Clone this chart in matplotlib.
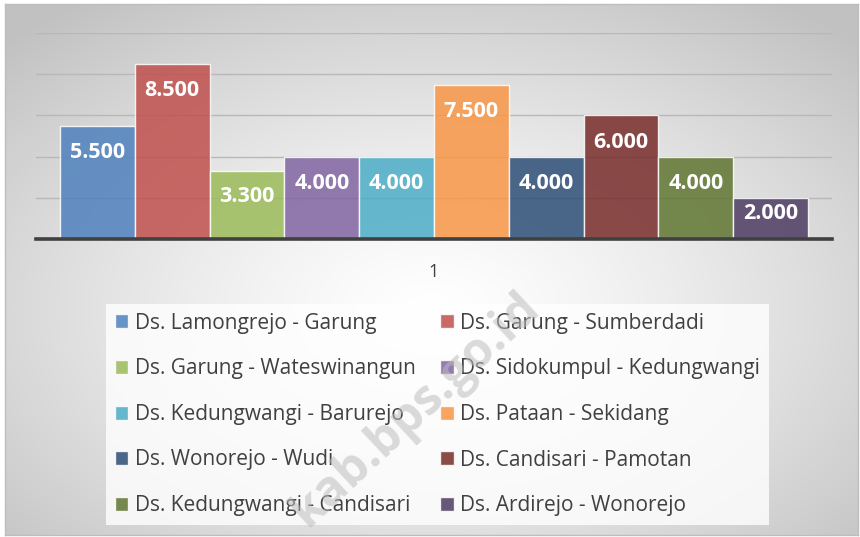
import numpy as np
import matplotlib
matplotlib.use("Agg")
import matplotlib.pyplot as plt

# ---- data ----
series = [
    "Ds. Lamongrejo - Garung",
    "Ds. Garung - Sumberdadi",
    "Ds. Garung - Wateswinangun",
    "Ds. Sidokumpul - Kedungwangi",
    "Ds. Kedungwangi - Barurejo",
    "Ds. Pataan - Sekidang",
    "Ds. Wonorejo - Wudi",
    "Ds. Candisari - Pamotan",
    "Ds. Kedungwangi - Candisari",
    "Ds. Ardirejo - Wonorejo",
]
values = [5.5, 8.5, 3.3, 4.0, 4.0, 7.5, 4.0, 6.0, 4.0, 2.0]
category = "1"
colors = ["#4F81BD", "#C0504D", "#9BBB59", "#8064A2", "#4BACC6",
          "#F79646", "#2C4D75", "#772C2A", "#5F7530", "#4D3B62"]
y_max = 10
y_step = 2

plt.rcParams['font.family'] = ['Open Sans', 'DejaVu Sans']

W, H = 860, 537
fig = plt.figure(figsize=(W / 100, H / 100), dpi=100)
fig.patch.set_facecolor("white")

# ---- background radial gradient (chart area) ----
bg = fig.add_axes([5 / W, 2 / H, 853 / W, 531 / H], zorder=0)
xx, yy = np.meshgrid(np.linspace(-1, 1, 600), np.linspace(-1, 1, 400))
cy = 0.15
r = np.sqrt(xx ** 2 + ((yy - cy) / 1.0) ** 2) / np.sqrt(2)
r = np.clip(r, 0, 1)
g = 1.0 - 0.24 * r ** 1.3
img = np.dstack([g, g, g])
bg.imshow(img, aspect="auto", extent=[0, 1, 0, 1], origin="upper")
bg.set_xlim(0, 1)
bg.set_ylim(0, 1)
bg.set_xticks([])
bg.set_yticks([])
for s in bg.spines.values():
    s.set_color("#bdbdbd")
    s.set_linewidth(1.0)

# ---- main axes ----
ax = fig.add_axes([36 / W, 1 - 239 / H, 796 / W, 206 / H], zorder=1)
ax.patch.set_alpha(0)
n = len(values)
pos = np.arange(n) - (n - 1) / 2
bars = ax.bar(pos, values, width=1.0, color=colors, alpha=0.85,
              edgecolor=(1, 1, 1, 0.6), linewidth=1.0, zorder=3)
ax.set_xlim(-n / 2 - 0.321, n / 2 + 0.321)
ax.set_ylim(0, y_max)
ax.set_yticks(np.arange(y_step, y_max + 0.01, y_step))
ax.yaxis.grid(True, color="#b8b8b8", linewidth=1.0, zorder=0)
ax.set_axisbelow(True)
ax.tick_params(axis="y", length=0, labelleft=False)
ax.set_xticks([0])
ax.set_xticklabels([category], fontsize=13, color="#404040")
ax.tick_params(axis="x", length=0, pad=17)
for s in ["top", "right", "left"]:
    ax.spines[s].set_visible(False)
ax.spines["bottom"].set_color("#404040")
ax.spines["bottom"].set_linewidth(2.6)
ax.spines["bottom"].set_zorder(5)

# data labels (inside end)
for p, v in zip(pos, values):
    off = min(1.3, v * 0.37)
    ax.text(p, v - off, f"{v:.3f}", ha="center", va="center",
            color="white", fontsize=15.5, fontweight="bold", zorder=6)

# ---- legend (row-wise order) ----
order = list(range(0, n, 2)) + list(range(1, n, 2))
handles = [bars.patches[i] for i in order]
labels = [series[i] for i in order]
leg = fig.legend(handles, labels, ncol=2, loc="upper left",
                 bbox_to_anchor=(106 / W, 1 - 304 / H),
                 fontsize=15, frameon=True, fancybox=False,
                 handlelength=0.65, handleheight=0.65, handletextpad=0.3,
                 columnspacing=1.2, labelspacing=1.18, borderpad=0.42,
                 borderaxespad=0)
leg.get_frame().set_facecolor((1, 1, 1, 0.45))
leg.get_frame().set_edgecolor("none")
for t in leg.get_texts():
    t.set_color("#404040")
leg.set_zorder(4)

# watermark
fig.text(416 / W, 1 - 410 / H, "kab.bps.go.id", rotation=43,
         rotation_mode="anchor", ha="center", va="center", fontsize=35,
         fontweight="bold", color="#bdbdbd", alpha=0.55, zorder=10)

fig.savefig("out.png", dpi=100)
